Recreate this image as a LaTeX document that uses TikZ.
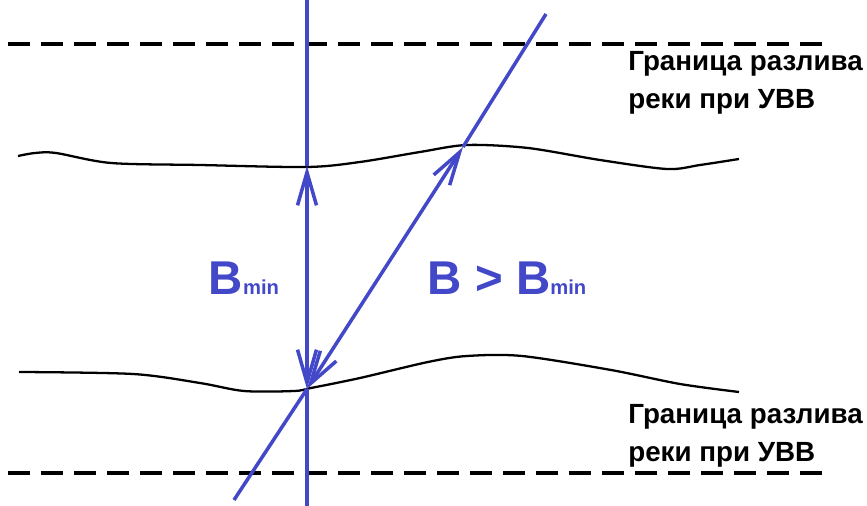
\documentclass[tikz,border=0pt]{standalone}
\usepackage{fontspec}
\setmainfont{Liberation Sans}
\usepackage{tikz}
\usetikzlibrary{calc,arrows.meta,positioning}
\definecolor{pen}{RGB}{66,72,200}
\tikzstyle{flood}=[draw=black,line width=1.8pt,dash pattern=on 0.44cm off 0.22cm]
\tikzstyle{bank}=[draw=black,line width=1.3pt]
\tikzstyle{ray}=[draw=pen,line width=2pt]
\tikzstyle{dim}=[draw=pen,line width=2pt,-{Straight Barb[length=0.66cm,width=0.38cm,line width=2pt]}]
\tikzstyle{caption}=[align=left,anchor=north west,inner sep=0pt,font=\bfseries\fontsize{15.8}{21.6}\selectfont]
\tikzstyle{widthtag}=[text=pen,inner sep=0pt,font=\bfseries\fontsize{27}{27}\selectfont]
\newcommand{\subm}{{\fontsize{11.5}{11.5}\selectfont min}}

\begin{document}
\begin{tikzpicture}[x=0.02cm,y=-0.02cm]
\useasboundingbox (0,0) rectangle (867,506);
% flood limits
\draw[flood] (8,44) -- (830,44);
\draw[flood] (8,473) -- (830,473);
\node[caption] (capTop) at (628,51) {Граница разлива\\реки при УВВ};
\node[caption] (capBot) at (628,404) {Граница разлива\\реки при УВВ};
% river banks
\draw[bank] plot[smooth,tension=0.5] coordinates {(18,156) (35,153) (56,153) (111,163) (200,165) (307,167) (360,162) (420,152) (467,145) (528,148) (600,160) (667,169) (700,165) (739,159)};
\draw[bank] plot[smooth,tension=0.5] coordinates {(19,372) (133,374) (200,383) (244,391) (294,391) (311,388) (360,378) (428,362) (467,356) (522,356) (611,370) (680,384) (739,392)};
% crossings
\coordinate (vTop) at (307,0);
\coordinate (vBot) at (307,506);
\coordinate (vMid) at (307,258);
\coordinate (a1) at (307,166);
\coordinate (a2) at (307,389);
\coordinate (dTop) at (546,14);
\coordinate (dBot) at (234,500);
\coordinate (b1) at (463,147);
\coordinate (dMid) at ($(a2)!0.5!(b1)$);
\draw[ray] (vTop) -- (a1);
\draw[ray] (a2) -- (vBot);
\draw[ray] (dBot) -- (a2);
\draw[ray] (b1) -- (dTop);
\draw[dim] (vMid) -- (a1);
\draw[dim] (vMid) -- (a2);
\draw[dim] (dMid) -- (b1);
\draw[dim] (dMid) -- (a2);
% labels
\node[widthtag] (bmin) at (244,278) {B\subm};
\node[widthtag] (bgt) at (507,278) {B > B\subm};
\end{tikzpicture}
\end{document}
